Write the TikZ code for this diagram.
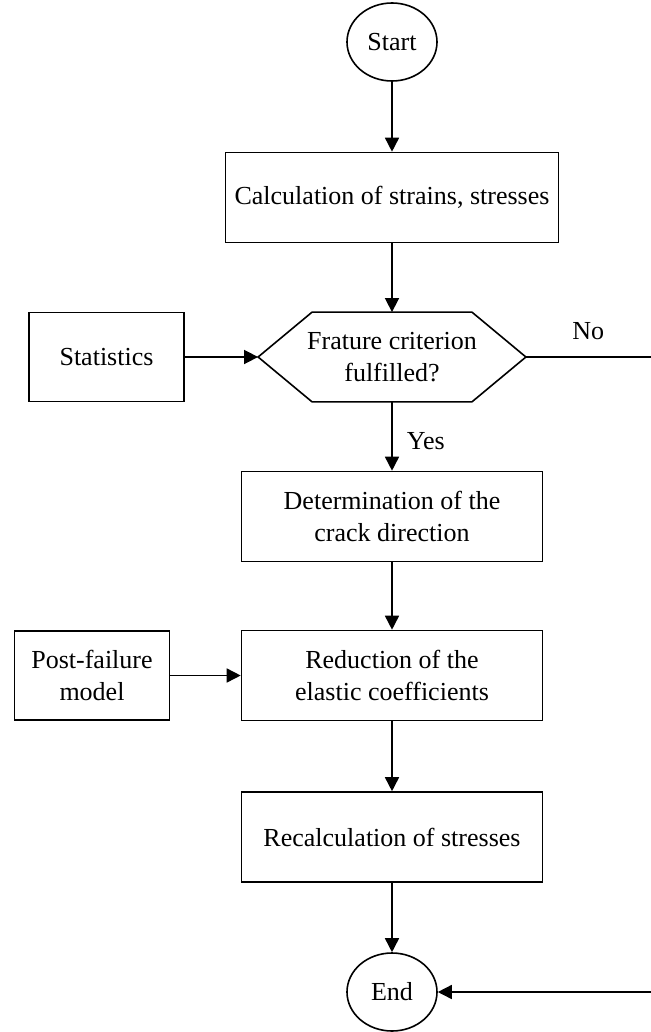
\documentclass[tikz,border=0pt]{standalone}
\usepackage{fontspec}
\setmainfont{Liberation Serif}
\usetikzlibrary{shapes.geometric,arrows.meta}

\begin{document}
\begin{tikzpicture}[x=0.5pt,y=-0.5pt]

    % styles
    \tikzstyle{every node} = [font=\fontsize{13}{15.8}\selectfont]
    \tikzstyle{proc} = [draw,line width=0.8pt,rectangle,align=center,inner sep=0pt,
        minimum width=150.5pt,minimum height=45pt]
    \tikzstyle{side} = [proc,minimum width=77.5pt,minimum height=44.5pt]
    \tikzstyle{term} = [draw,line width=0.8pt,ellipse,inner sep=0pt,
        minimum width=45pt,minimum height=39pt]
    \tikzstyle{test} = [rectangle,align=center,inner sep=0pt,
        minimum width=133.5pt,minimum height=44.5pt]
    \tikzstyle{flow} = [line width=0.8pt,-{Triangle[length=7pt,width=7pt]}]

    \useasboundingbox (0,0) rectangle (650,1032);

    % main column
    \node[term] (start) at (392,42) {Start};
    \node[proc,minimum width=166.5pt] (calc) at (392,197.5) {Calculation of strains, stresses};
    \node[test] (crit) at (392,357) {Frature criterion\\fulfilled?};
    \node[proc] (dir) at (392,516.5) {Determination of the\\crack direction};
    \node[proc] (red) at (392,675.5) {Reduction of the\\elastic coefficients};
    \node[proc] (recalc) at (392,837) {Recalculation of stresses};
    \node[term] (stop) at (392,992) {End};

    % hexagon round the test
    \draw[line width=0.8pt] (crit.west) -- ([xshift=27pt]crit.north west)
        -- ([xshift=-27pt]crit.north east) -- (crit.east)
        -- ([xshift=-27pt]crit.south east) -- ([xshift=27pt]crit.south west) -- cycle;

    % inputs on the left
    \node[side] (stat) at (106.5,357) {Statistics};
    \node[side] (post) at (92,675.5) {Post-failure\\model};

    % way round on the right, off the page
    \coordinate (exit) at (656,357);

    % connectors
    \draw[flow] (start) -- (calc);
    \draw[flow] (calc) -- (crit);
    \draw[flow] (stat) -- (crit);
    \draw[flow] (crit) -- node[anchor=west,pos=0.57,xshift=3.7pt] {Yes} (dir);
    \draw[flow] (dir) -- (red);
    \draw[flow] (post) -- (red);
    \draw[flow] (red) -- (recalc);
    \draw[flow] (recalc) -- (stop);
    \draw[flow] (crit.east) -- node[above=5pt,pos=0.48] {No} (exit) |- (stop.east);
\end{tikzpicture}
\end{document}
